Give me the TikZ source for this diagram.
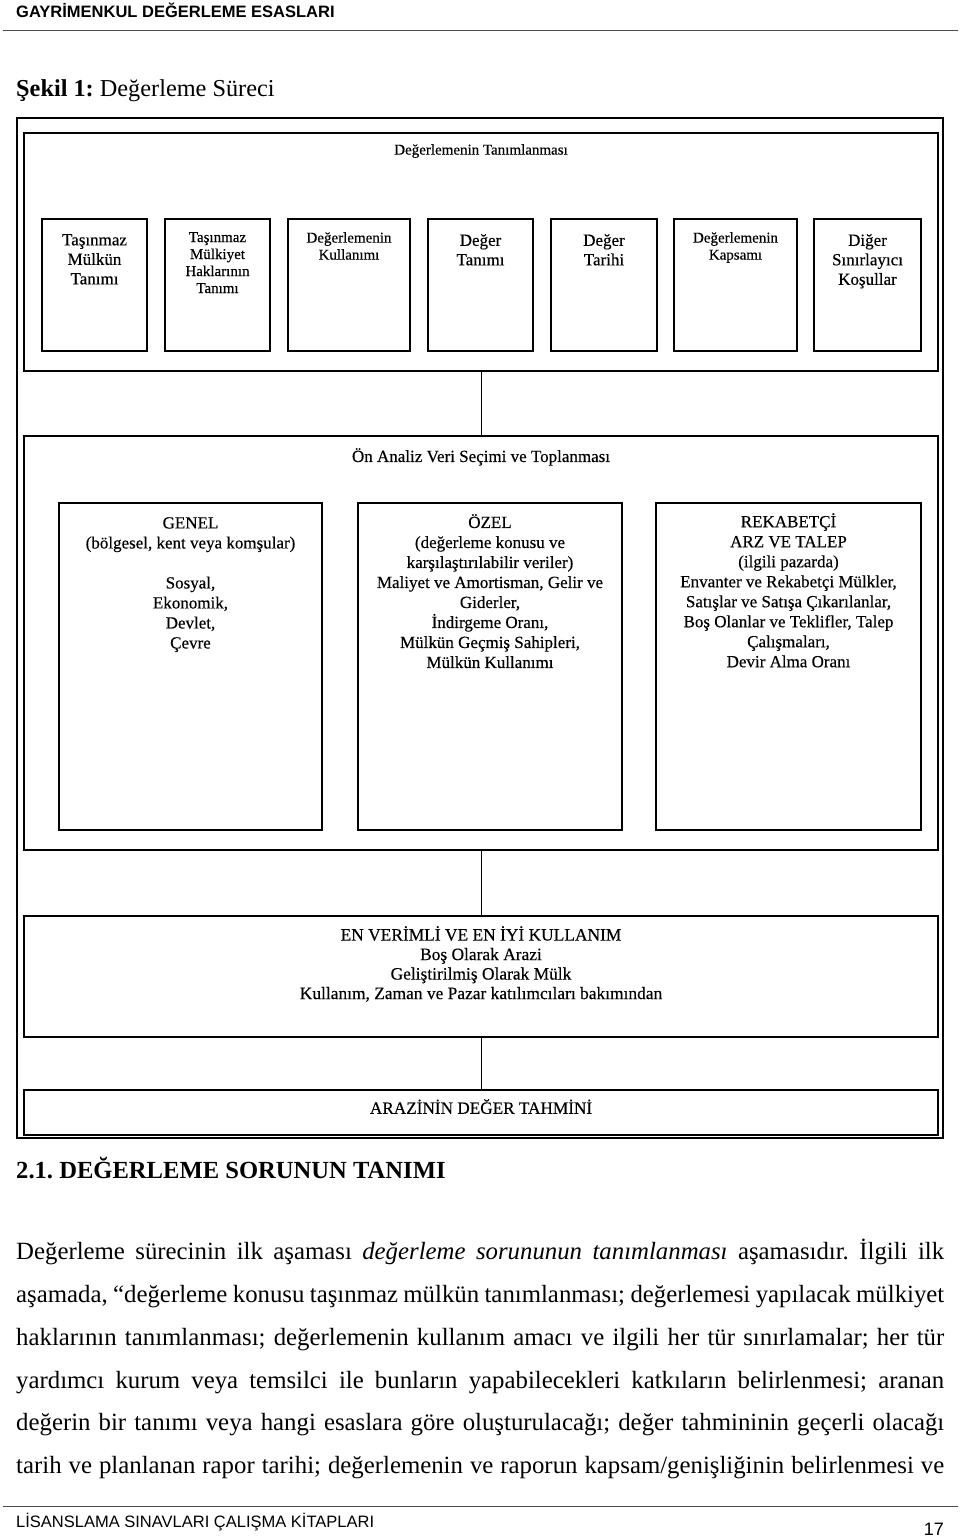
\documentclass[tikz,border=0pt]{standalone}
\usepackage{fontspec}
\setmainfont{Liberation Serif}
\setsansfont{Liberation Sans}
\newfontfamily\dfont{Liberation Serif}[FakeBold=0.35]
\frenchspacing
\begin{document}
\begin{tikzpicture}[x=1pt,y=-1pt,
  frame/.style={draw, line width=1.8pt, inner sep=0pt, outer sep=0pt},
  bigbox/.style={draw, line width=1.4pt, inner sep=0pt, outer sep=0pt, minimum width=914},
  sbox/.style={draw, line width=1.2pt, inner sep=0pt, outer sep=0pt, minimum height=132},
  gbox/.style={draw, line width=1.2pt, inner sep=0pt, outer sep=0pt, minimum width=264, minimum height=327},
  conn/.style={line width=1pt},
  lbl/.style={inner sep=0pt, align=center, anchor=north},
  fs/.style={font=\dfont\fontsize{15}{17}\selectfont},
  fm/.style={font=\dfont\fontsize{17}{19.5}\selectfont},
  fg/.style={font=\dfont\fontsize{17}{20}\selectfont},
  body/.style={inner sep=0pt, anchor=base west, font=\fontsize{24.8}{24.8}\selectfont},
  rule/.style={draw=black!70, line width=0.9pt}
]
\useasboundingbox (0,0) rectangle (960,1538);
% page header
\node[inner sep=0pt, anchor=base west, font=\sffamily\bfseries\fontsize{16.5}{16.5}\selectfont] (hdr) at (16,18) {GAYRİMENKUL DEĞERLEME ESASLARI};
\coordinate (hl) at (3,30); \coordinate (hr) at (958,30);
\draw[rule] (hl) -- (hr);
\node[body, font=\fontsize{24.3}{24.3}\selectfont] (cap) at (16,97) {\textbf{Şekil 1:} Değerleme Süreci};

% outer frame
\node[frame, minimum width=926, minimum height=1020] (outer) at (480,628) {};

% box A
\node[bigbox, minimum height=238] (A) at (481,252) {};
\node[lbl, fs] (At) at (481,144) {Değerlemenin Tanımlanması};
\node[sbox, minimum width=105] (b1) at (94.5,285) {};
\node[sbox, minimum width=105] (b2) at (217.5,285) {};
\node[sbox, minimum width=122] (b3) at (349,285) {};
\node[sbox, minimum width=105] (b4) at (480.5,285) {};
\node[sbox, minimum width=106] (b5) at (604,285) {};
\node[sbox, minimum width=123] (b6) at (735.5,285) {};
\node[sbox, minimum width=107] (b7) at (867.5,285) {};
\node[lbl, fm] (t1) at (94.5,234) {Taşınmaz\\Mülkün\\Tanımı};
\node[lbl, fs] (t2) at (217.5,232) {Taşınmaz\\Mülkiyet\\Haklarının\\Tanımı};
\node[lbl, fs] (t3) at (349,232) {Değerlemenin\\Kullanımı};
\node[lbl, fm] (t4) at (480.5,234) {Değer\\Tanımı};
\node[lbl, fm] (t5) at (604,234) {Değer\\Tarihi};
\node[lbl, fs] (t6) at (735.5,232) {Değerlemenin\\Kapsamı};
\node[lbl, fm] (t7) at (867.5,234) {Diğer\\Sınırlayıcı\\Koşullar};

% box B
\node[bigbox, minimum height=414] (B) at (481,643) {};
\node[lbl, fm] (Bt) at (481,448) {Ön Analiz Veri Seçimi ve Toplanması};
\node[gbox, minimum width=263] (g1) at (190.5,666.5) {};
\node[gbox] (g2) at (490,666.5) {};
\node[gbox, minimum width=265] (g3) at (788.5,666.5) {};
\node[lbl, fg] (gt1) at (190.5,517) {GENEL\\(bölgesel, kent veya komşular)\\[20pt]Sosyal,\\Ekonomik,\\Devlet,\\Çevre};
\node[lbl, fg] (gt2) at (490,514) {ÖZEL\\(değerleme konusu ve\\karşılaştırılabilir veriler)\\Maliyet ve Amortisman, Gelir ve\\Giderler,\\İndirgeme Oranı,\\Mülkün Geçmiş Sahipleri,\\Mülkün Kullanımı};
\node[lbl, fg] (gt3) at (788.5,513) {REKABETÇİ\\ARZ VE TALEP\\(ilgili pazarda)\\Envanter ve Rekabetçi Mülkler,\\Satışlar ve Satışa Çıkarılanlar,\\Boş Olanlar ve Teklifler, Talep\\Çalışmaları,\\Devir Alma Oranı};

% box C
\node[bigbox, minimum height=121] (C) at (481,976.5) {};
\node[lbl, font=\dfont\fontsize{17.4}{19.5}\selectfont] (Ct) at (481,926) {EN VERİMLİ VE EN İYİ KULLANIM\\Boş Olarak Arazi\\Geliştirilmiş Olarak Mülk\\Kullanım, Zaman ve Pazar katılımcıları bakımından};

% box D
\node[bigbox, minimum height=45] (D) at (481,1112.5) {};
\node[lbl, font=\dfont\fontsize{17.2}{19}\selectfont] (Dt) at (481,1099) {ARAZİNİN DEĞER TAHMİNİ};

% connectors
\draw[conn] (A.south) -- (B.north);
\draw[conn] (B.south) -- (C.north);
\draw[conn] (C.south) -- (D.north);

% text below
\node[body, font=\fontsize{24.6}{24.6}\selectfont] (sec) at (16,1178) {\textbf{2.1. DEĞERLEME SORUNUN TANIMI}};
\node[body] (p1) at (16,1259) {\makebox[928pt][s]{Değerleme sürecinin ilk aşaması \textit{değerleme sorununun tanımlanması} aşamasıdır. İlgili ilk}};
\node[body] (p2) at (16,1302) {\makebox[928pt][s]{aşamada, “değerleme konusu taşınmaz mülkün tanımlanması; değerlemesi yapılacak mülkiyet}};
\node[body] (p3) at (16,1345) {\makebox[928pt][s]{haklarının tanımlanması; değerlemenin kullanım amacı ve ilgili her tür sınırlamalar; her tür}};
\node[body] (p4) at (16,1388) {\makebox[928pt][s]{yardımcı kurum veya temsilci ile bunların yapabilecekleri katkıların belirlenmesi; aranan}};
\node[body] (p5) at (16,1430) {\makebox[928pt][s]{değerin bir tanımı veya hangi esaslara göre oluşturulacağı; değer tahmininin geçerli olacağı}};
\node[body] (p6) at (16,1473) {\makebox[928pt][s]{tarih ve planlanan rapor tarihi; değerlemenin ve raporun kapsam/genişliğinin belirlenmesi ve}};

% footer
\coordinate (fl) at (3,1506); \coordinate (fr) at (958,1506);
\draw[rule] (fl) -- (fr);
\node[inner sep=0pt, anchor=base west, font=\sffamily\fontsize{16.5}{16.5}\selectfont] (ftr) at (16,1527) {LİSANSLAMA SINAVLARI ÇALIŞMA KİTAPLARI};
\node[inner sep=0pt, anchor=base east, font=\sffamily\fontsize{18}{18}\selectfont] (pg) at (944,1535) {17};
\end{tikzpicture}
\end{document}
